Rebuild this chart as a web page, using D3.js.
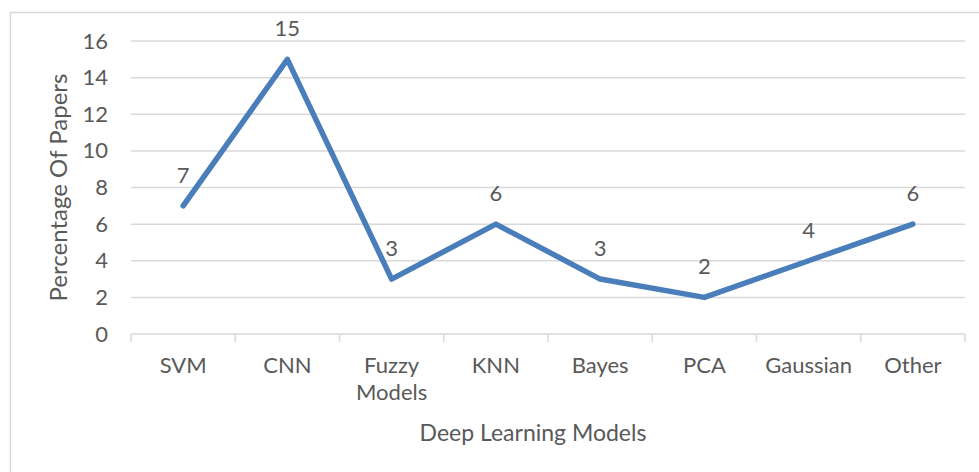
<!DOCTYPE html>
<html>
<head>
<meta charset="utf-8">
<script src="https://cdn.jsdelivr.net/npm/d3@7"></script>
<style>
  body { margin: 0; background: #fff; }
  text { font-family: Lato, "Open Sans", sans-serif; fill: #595959; }
</style>
</head>
<body>
<div id="chart"></div>
<script>
// data
const categories = ["SVM", "CNN", "Fuzzy Models", "KNN", "Bayes", "PCA", "Gaussian", "Other"];
const papers = [7, 15, 3, 6, 3, 2, 4, 6];
const yTicks = [0, 2, 4, 6, 8, 10, 12, 14, 16];

const W = 979, H = 472;
const margin = { top: 41, right: 14, bottom: 138, left: 131 };
const width = W - margin.left - margin.right;
const height = H - margin.top - margin.bottom;

const svg = d3.select("#chart").append("svg")
    .attr("width", W)
    .attr("height", H);

// outer chart frame (cut off at right and bottom like the source)
svg.append("rect")
    .attr("x", 10.5).attr("y", 12.5)
    .attr("width", W + 10).attr("height", H + 10)
    .attr("fill", "none")
    .attr("stroke", "#d9d9d9")
    .attr("stroke-width", 1.5);

const g = svg.append("g")
    .attr("transform", `translate(${margin.left},${margin.top})`);

const x = d3.scaleBand()
    .domain(categories)
    .range([0, width]);

const y = d3.scaleLinear()
    .domain([0, 16])
    .range([height, 0]);

// gridlines
g.selectAll(".grid")
    .data(yTicks.filter(d => d > 0))
    .enter()
    .append("line")
    .attr("x1", 0).attr("x2", width)
    .attr("y1", d => y(d)).attr("y2", d => y(d))
    .attr("stroke", "#d9d9d9")
    .attr("stroke-width", 1.5);

// y axis labels
const yAxis = g.append("g")
    .call(d3.axisLeft(y).tickValues(yTicks).tickSize(0).tickPadding(23));
yAxis.select(".domain").remove();
yAxis.selectAll("text")
    .style("font-size", "22px")
    .attr("fill", "#595959");

// x axis with boundary ticks
const xAxis = g.append("g")
    .attr("transform", `translate(0,${height})`);
xAxis.append("line")
    .attr("x1", 0).attr("x2", width)
    .attr("stroke", "#d9d9d9").attr("stroke-width", 1.5);
xAxis.selectAll(".tick-line")
    .data(categories.concat([null]))
    .enter()
    .append("line")
    .attr("x1", (d, i) => i * x.step()).attr("x2", (d, i) => i * x.step())
    .attr("y1", 0).attr("y2", 8)
    .attr("stroke", "#d9d9d9").attr("stroke-width", 1.5);

xAxis.selectAll(".cat")
    .data(categories)
    .enter()
    .append("text")
    .attr("text-anchor", "middle")
    .style("font-size", "22px")
    .attr("x", d => x(d) + x.bandwidth() / 2)
    .attr("y", 39)
    .each(function(d) {
        const words = d.split(" ");
        const t = d3.select(this);
        words.forEach((w, i) => {
            t.append("tspan")
                .attr("x", x(d) + x.bandwidth() / 2)
                .attr("dy", i === 0 ? 0 : 27)
                .text(w);
        });
    });

// line
const line = d3.line()
    .x((d, i) => x(categories[i]) + x.bandwidth() / 2)
    .y(d => y(d));

g.append("path")
    .datum(papers)
    .attr("d", line)
    .attr("fill", "none")
    .attr("stroke", "#4a7ebb")
    .attr("stroke-width", 5.5)
    .attr("stroke-linejoin", "round")
    .attr("stroke-linecap", "round");

// data labels
g.selectAll(".label")
    .data(papers)
    .enter()
    .append("text")
    .attr("text-anchor", "middle")
    .style("font-size", "22px")
    .attr("x", (d, i) => x(categories[i]) + x.bandwidth() / 2)
    .attr("y", d => y(d) - 23)
    .attr("fill", "#404040")
    .text(d => d);

// axis titles
svg.append("text")
    .attr("transform", `translate(67,${margin.top + height / 2}) rotate(-90)`)
    .attr("text-anchor", "middle")
    .style("font-size", "24px")
    .text("Percentage Of Papers");

svg.append("text")
    .attr("x", 533)
    .attr("y", 441)
    .attr("text-anchor", "middle")
    .style("font-size", "23px")
    .text("Deep Learning Models");
</script>
</body>
</html>
